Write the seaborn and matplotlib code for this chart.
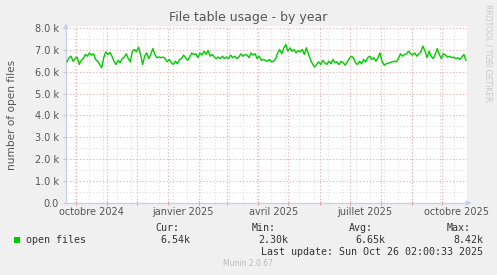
import matplotlib
matplotlib.use("Agg")
import matplotlib.pyplot as plt
import matplotlib.ticker as mticker
import seaborn as sns
import pandas as pd

# ---------------- data ----------------
title = "File table usage - by year"
ylabel = "number of open files"
series_name = "open files"
start_time = "2024-09-22"
end_time = "2025-10-25"
open_files = [
    6450, 6640, 6710, 6480, 6600, 6670, 6330, 6520, 6600, 6790, 6710, 6860, 6760, 6820,
    6560, 6480, 6330, 6180, 6640, 6910, 6790, 6880, 6710, 6480, 6330, 6520, 6410, 6600,
    6670, 6820, 6600, 6450, 6940, 7015, 6910, 7120, 6790, 6330, 6710, 6860, 6600, 6790,
    7060, 6790, 6640, 6670, 6640, 6670, 6600, 6450, 6560, 6410, 6330, 6480, 6360, 6560,
    6600, 6760, 6640, 6520, 6670, 6860, 6790, 6820, 6640, 6860, 6760, 6940, 6790, 6970,
    6710, 6790, 6670, 6600, 6670, 6600, 6710, 6600, 6670, 6600, 6760, 6640, 6710, 6600,
    6670, 6820, 6710, 6790, 6760, 6640, 6860, 6760, 6820, 6600, 6710, 6520, 6560, 6520,
    6480, 6560, 6450, 6480, 6600, 6860, 7015, 6820, 7090, 7240, 6940, 7090, 6940, 7015,
    6860, 6970, 6910, 7015, 6790, 7090, 6820, 6560, 6360, 6210, 6330, 6450, 6330, 6520,
    6410, 6330, 6480, 6360, 6560, 6410, 6450, 6330, 6480, 6410, 6300, 6450, 6600, 6710,
    6640, 6410, 6330, 6480, 6360, 6560, 6450, 6640, 6710, 6560, 6640, 6480, 6640, 6860,
    6480, 6300, 6360, 6390, 6420, 6450, 6480, 6450, 6600, 6820, 6710, 6790, 6820, 6940,
    6820, 6760, 6860, 6710, 6820, 6910, 7170, 6940, 6640, 6940, 6710, 6600, 6790, 7060,
    6790, 6600, 6820, 6760, 6670, 6710, 6640, 6670, 6600, 6640, 6560, 6670, 6790, 6520,
]
yticks = [0, 1000, 2000, 3000, 4000, 5000, 6000, 7000, 8000]
xtick_labels = ["octobre 2024", "janvier 2025", "avril 2025", "juillet 2025", "octobre 2025"]
xtick_dates = ["2024-10-16", "2025-01-16", "2025-04-16", "2025-07-16", "2025-10-16"]
legend_heads = ["Cur:", "Min:", "Avg:", "Max:"]
legend_vals = ["6.54k", "2.30k", "6.65k", "8.42k"]
last_update = "Last update: Sun Oct 26 02:00:33 2025"
footer = "Munin 2.0.67"
side_text = "RRDTOOL / TOBI OETIKER"

# ---------------- figure ----------------
W, H = 497, 275
fig = plt.figure(figsize=(W / 100, H / 100), dpi=100, facecolor="#F0F0F0")
L, R, T, B = 66, 467, 26, 203
ax = fig.add_axes([L / W, 1 - B / H, (R - L) / W, (B - T) / H])
ax.set_facecolor("white")

df = pd.DataFrame({
    "time": pd.date_range(start_time, end_time, periods=len(open_files)),
    "value": open_files,
})

xmin = pd.Timestamp("2024-09-21 02:00")
xmax = pd.Timestamp("2025-10-26 02:00")
ax.set_xlim(xmin, xmax)
ax.set_ylim(0, 8090)

# grid
minor_grid = pd.date_range("2024-09-30", "2025-10-26", freq="14D")
month_grid = pd.date_range("2024-10-01", "2025-10-26", freq="MS")
for d in minor_grid:
    ax.axvline(d, color="#DDDDDD", lw=0.8, ls=(0, (1, 2)), zorder=0)
for v in range(500, 8001, 1000):
    ax.axhline(v, color="#DDDDDD", lw=0.8, ls=(0, (1, 2)), zorder=0)
for d in month_grid:
    ax.axvline(d, color="#E8AAAA", lw=0.8, ls=(0, (1, 2)), zorder=0.5)
for v in yticks[1:]:
    ax.axhline(v, color="#E8AAAA", lw=0.8, ls=(0, (1, 2)), zorder=0.5)

sns.lineplot(data=df, x="time", y="value", ax=ax, color="#00CC00", lw=1.0, zorder=3)

ax.set_xlabel("")
ax.set_ylabel(ylabel, fontsize=7.6, color="#555555")
ax.yaxis.set_label_coords(-0.122, 0.5)

ax.set_yticks(yticks)
ax.yaxis.set_major_formatter(mticker.FuncFormatter(lambda v, p: "0.0" if v == 0 else f"{v/1000:.1f} k"))
ax.tick_params(axis="y", length=2, width=0.6, color="#BBBBBB", labelsize=7, labelcolor="#555555", pad=3)

ax.set_xticks(pd.to_datetime(xtick_dates))
ax.set_xticklabels(xtick_labels)
ax.tick_params(axis="x", which="major", length=0, labelsize=7, labelcolor="#555555", pad=3)
ax.set_xticks(month_grid, minor=True)
ax.tick_params(axis="x", which="minor", length=3, width=0.6, color="#E08080", direction="inout")

for s in ["top", "right"]:
    ax.spines[s].set_visible(False)
for s in ["left", "bottom"]:
    ax.spines[s].set_color("#C8CCF4")
    ax.spines[s].set_linewidth(0.9)

# arrows on the axes
ax.annotate("", xy=(0, 1.03), xytext=(0, 0.98), xycoords="axes fraction",
            arrowprops=dict(arrowstyle="-|>", color="#C8CCF4", lw=0.8, mutation_scale=7), annotation_clip=False)
ax.annotate("", xy=(1.018, 0), xytext=(0.99, 0), xycoords="axes fraction",
            arrowprops=dict(arrowstyle="-|>", color="#C8CCF4", lw=0.8, mutation_scale=7), annotation_clip=False)

# texts
fig.text(248 / W, 1 - 18 / H, title, ha="center", va="center", fontsize=9, color="#555555")
fig.text(488 / W, 1 - 53 / H, side_text, ha="center", va="center", rotation=270, fontsize=5.5, color="#C8C8C8")

mono = "DejaVu Sans Mono"
fig.patches.append(plt.Rectangle((14 / W, 1 - 243 / H), 6 / W, 6 / H, transform=fig.transFigure,
                                 facecolor="#00CC00", edgecolor="none"))
fig.text(26 / W, 1 - 240 / H, series_name, ha="left", va="center", fontsize=7.2, family=mono, color="#333333")
head_x = [155, 252, 349, 447]
val_right = [190, 288, 385, 483]
for hx, vr, h, v in zip(head_x, val_right, legend_heads, legend_vals):
    fig.text(hx / W, 1 - 228 / H, h, ha="left", va="center", fontsize=7.2, family=mono, color="#333333")
    fig.text(vr / W, 1 - 240 / H, v, ha="right", va="center", fontsize=7.2, family=mono, color="#333333")
fig.text(483 / W, 1 - 252 / H, last_update, ha="right", va="center", fontsize=7.2, family=mono, color="#333333")
fig.text(248 / W, 1 - 264 / H, footer, ha="center", va="center", fontsize=5.5, color="#BBBBBB")

fig.savefig("out.png", dpi=100, facecolor=fig.get_facecolor())
